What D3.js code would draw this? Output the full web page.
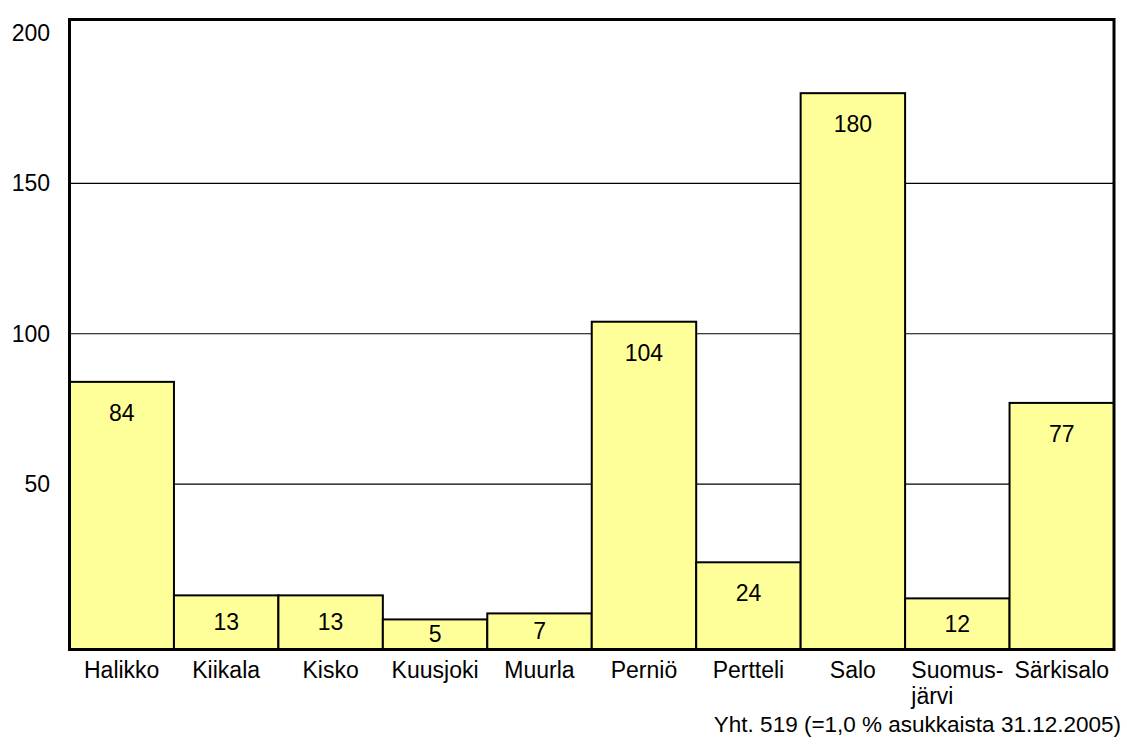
<!DOCTYPE html>
<html>
<head>
<meta charset="utf-8">
<script src="https://cdn.jsdelivr.net/npm/d3@7"></script>
<style>
  html, body { margin: 0; padding: 0; background: #fff; }
  svg { display: block; font-family: "Liberation Sans", Arial, sans-serif; }
</style>
</head>
<body>
<svg id="chart" width="1127" height="744"></svg>
<script>
const categories = ["Halikko", "Kiikala", "Kisko", "Kuusjoki", "Muurla", "Perniö", "Pertteli", "Salo", "Suomus-\njärvi", "Särkisalo"];
const values = [84, 13, 13, 5, 7, 104, 24, 180, 12, 77];
const yTicks = [50, 100, 150, 200];
const footnote = "Yht. 519 (=1,0 % asukkaista 31.12.2005)";

const W = 1127, H = 744;
const FS = 23;
const m = { left: 69.5, right: 1114, top: 19.5, bottom: 649.5 };
const svg = d3.select("#chart");

const x = d3.scaleBand().domain(categories).range([m.left, m.right]).padding(0);
const y = d3.scaleLinear().domain([-5, 205]).range([m.bottom, m.top - 1.5]);

// gridlines
svg.append("g").selectAll("line").data(yTicks.filter(t => t < 200)).join("line")
  .attr("x1", m.left).attr("x2", m.right)
  .attr("y1", d => y(d)).attr("y2", d => y(d))
  .attr("stroke", "#000").attr("stroke-width", 1.2);

// bars
svg.append("g").selectAll("rect").data(values).join("rect")
  .attr("x", (d, i) => x(categories[i]))
  .attr("width", x.bandwidth())
  .attr("y", d => y(d))
  .attr("height", d => m.bottom - y(d))
  .attr("fill", "#FFFF99")
  .attr("stroke", "#000").attr("stroke-width", 2);

// value labels
svg.append("g").selectAll("text").data(values).join("text")
  .attr("x", (d, i) => x(categories[i]) + x.bandwidth() / 2)
  .attr("y", d => Math.min(y(d) + 31, (y(d) + m.bottom) / 2))
  .attr("text-anchor", "middle")
  .attr("dominant-baseline", "central")
  .attr("font-size", FS)
  .attr("fill", "#000")
  .text(d => d);

// frame
svg.append("rect")
  .attr("x", m.left).attr("y", m.top)
  .attr("width", m.right - m.left).attr("height", m.bottom - m.top)
  .attr("fill", "none").attr("stroke", "#000").attr("stroke-width", 3);

// y tick labels
svg.append("g").selectAll("text").data(yTicks).join("text")
  .attr("x", 50)
  .attr("y", d => Math.max(y(d), 22))
  .attr("text-anchor", "end")
  .attr("dominant-baseline", "central")
  .attr("font-size", FS)
  .text(d => d);

// x labels
const xl = svg.append("g");
categories.forEach(c => {
  const lines = c.split("\n");
  const t = xl.append("text")
    .attr("font-size", FS)
    .attr("fill", "#000");
  if (lines.length === 1) {
    t.attr("x", x(c) + x.bandwidth() / 2).attr("y", 670)
      .attr("text-anchor", "middle").attr("dominant-baseline", "central")
      .text(c);
  } else {
    const tmp = t.append("tspan").text(lines[0]);
    const w = tmp.node().getComputedTextLength();
    tmp.remove();
    const x0 = x(c) + x.bandwidth() / 2 - w / 2;
    lines.forEach((ln, k) => {
      t.append("tspan").attr("x", x0).attr("y", 670 + k * 26)
        .attr("dominant-baseline", "central").text(ln);
    });
  }
});

// footnote
svg.append("text")
  .attr("x", 1121).attr("y", 724)
  .attr("text-anchor", "end").attr("dominant-baseline", "central")
  .attr("font-size", 22.5)
  .text(footnote);
</script>
</body>
</html>
